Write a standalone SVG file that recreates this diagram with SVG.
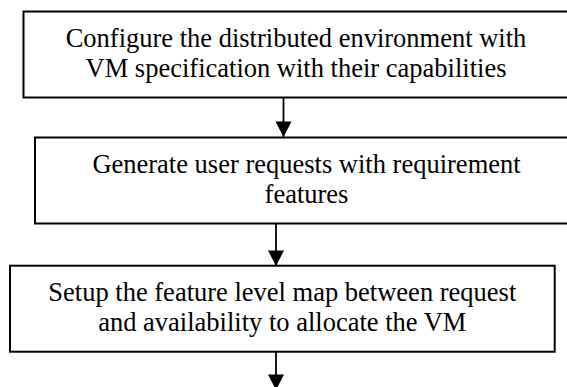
<svg xmlns="http://www.w3.org/2000/svg" width="567" height="387" viewBox="0 0 567 387">
<style>
.box{fill:#fff;stroke:#000;stroke-width:2}
.lbl{font-size:26.5px;fill:#000;text-anchor:middle}
.conn{stroke:#000;stroke-width:1.8;fill:none}
</style>
<defs>
<marker id="ah" markerUnits="userSpaceOnUse" markerWidth="16" markerHeight="16" refX="15" refY="7.75" orient="auto" viewBox="0 0 15 15.5">
<path d="M0,0 L15,7.75 L0,15.5 z" fill="#000"/>
</marker>
</defs>
<rect width="567" height="387" fill="#fff"/>
<g id="connectors">
<line class="conn" x1="283.5" y1="98" x2="283.5" y2="137" marker-end="url(#ah)"/>
<line class="conn" x1="276" y1="224" x2="276" y2="266" marker-end="url(#ah)"/>
<line class="conn" x1="276" y1="352" x2="276" y2="390" marker-end="url(#ah)"/>
</g>
<g font-family="'Liberation Serif', 'Times New Roman', 'DejaVu Serif', serif">
<g id="node1">
<rect class="box" x="23.5" y="11.5" width="545" height="86"/>
<text class="lbl" x="296" y="46.5">Configure the distributed environment with</text>
<text class="lbl" x="296" y="76.5">VM specification with their capabilities</text>
</g>
<g id="node2">
<rect class="box" x="35" y="137.5" width="545" height="86"/>
<text class="lbl" x="306.5" y="173.3">Generate user requests with requirement</text>
<text class="lbl" x="306.5" y="203.3">features</text>
</g>
<g id="node3">
<rect class="box" x="10" y="265.7" width="544.7" height="86"/>
<text class="lbl" x="282.3" y="300.7">Setup the feature level map between request</text>
<text class="lbl" x="282.3" y="330.7">and availability to allocate the VM</text>
</g>
</g>
</svg>
